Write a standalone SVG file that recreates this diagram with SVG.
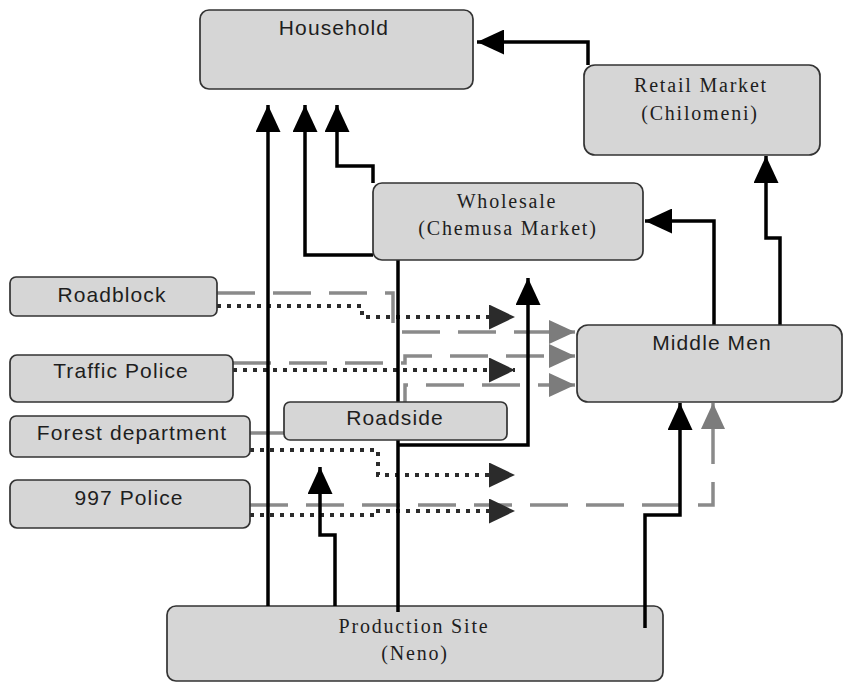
<svg xmlns="http://www.w3.org/2000/svg" width="843" height="683" viewBox="0 0 843 683">
  <style>
    .box { fill: #d6d6d6; stroke: #333; stroke-width: 1.7; }
    .sans { font-family: "Liberation Sans", Arial, sans-serif; font-size: 21px; fill: #1e1e1e; letter-spacing: 1.1px; text-anchor: middle; }
    .serif { font-family: "Liberation Serif", "Times New Roman", serif; font-size: 20px; fill: #1e1e1e; letter-spacing: 1.8px; text-anchor: middle; }
    .flow { fill: none; stroke: #000; stroke-width: 3.5; stroke-linejoin: miter; }
    .dot { fill: none; stroke: #2b2b2b; stroke-width: 4; stroke-dasharray: 4 6; }
    .dash { fill: none; stroke: #8a8a8a; stroke-width: 3.5; stroke-dasharray: 38 18; }
  </style>
  <defs>
    <marker id="arrBlack" markerUnits="userSpaceOnUse" markerWidth="27" markerHeight="25" refX="27" refY="12.5" orient="auto">
      <path d="M0,0 L27,12.5 L0,25 z" fill="#000"/>
    </marker>
    <marker id="arrDot" markerUnits="userSpaceOnUse" markerWidth="26" markerHeight="25" refX="26" refY="12.5" orient="auto">
      <path d="M0,0 L26,12.5 L0,25 z" fill="#2b2b2b"/>
    </marker>
    <marker id="arrGray" markerUnits="userSpaceOnUse" markerWidth="26" markerHeight="24" refX="26" refY="12" orient="auto">
      <path d="M0,0 L26,12 L0,24 z" fill="#7c7c7c"/>
    </marker>
  </defs>

  <rect width="843" height="683" fill="#fff"/>

  <!-- Production site sits under the flows that enter it -->
  <g id="production">
    <rect class="box" x="167" y="606" width="496" height="75" rx="9"/>
    <text class="serif" x="414" y="633">Production Site</text>
    <text class="serif" x="415" y="660">(Neno)</text>
  </g>

  <g id="connectors">
    <!-- checkpoint flows (grey dashed) -->
    <path class="dash" d="M217,293 H393 V332 H575" marker-end="url(#arrGray)"/>
    <path class="dash" d="M233,363 H405 V356 H575" marker-end="url(#arrGray)"/>
    <path class="dash" d="M250,433 H405 V385 H575" marker-end="url(#arrGray)"/>
    <path class="dash" d="M250,505 H713 V403" marker-end="url(#arrGray)"/>
    <!-- checkpoint flows (dotted) -->
    <path class="dot" d="M217,306 H362 V317 H515" marker-end="url(#arrDot)"/>
    <path class="dot" d="M233,370 H515" marker-end="url(#arrDot)"/>
    <path class="dot" d="M250,450 H378 V475 H515" marker-end="url(#arrDot)"/>
    <path class="dot" d="M250,515 H378 V511 H515" marker-end="url(#arrDot)"/>
    <!-- product flows (solid) -->
    <path class="flow" d="M268,606 V105" marker-end="url(#arrBlack)"/>
    <path class="flow" d="M373,255 H305 V105" marker-end="url(#arrBlack)"/>
    <path class="flow" d="M373,183 V166 H337 V105" marker-end="url(#arrBlack)"/>
    <path class="flow" d="M398,612 V260"/>
    <path class="flow" d="M398,445 H528 V278" marker-end="url(#arrBlack)"/>
    <path class="flow" d="M335,606 V535 H320 V467" marker-end="url(#arrBlack)"/>
    <path class="flow" d="M645,628 V515 H680 V403" marker-end="url(#arrBlack)"/>
    <path class="flow" d="M714,325 V221 H645" marker-end="url(#arrBlack)"/>
    <path class="flow" d="M780,325 V238 H766 V156" marker-end="url(#arrBlack)"/>
    <path class="flow" d="M588,65 V42 H477" marker-end="url(#arrBlack)"/>
  </g>

  <g id="household">
    <rect class="box" x="200" y="10" width="273" height="79" rx="9"/>
    <text class="sans" x="334" y="35">Household</text>
  </g>

  <g id="retail">
    <rect class="box" x="584" y="65" width="236" height="90" rx="11"/>
    <text class="serif" x="701" y="92">Retail Market</text>
    <text class="serif" x="700" y="120">(Chilomeni)</text>
  </g>

  <g id="wholesale">
    <rect class="box" x="373" y="183" width="270" height="77" rx="9"/>
    <text class="serif" x="507" y="208">Wholesale</text>
    <text class="serif" x="508" y="235">(Chemusa Market)</text>
  </g>

  <g id="middlemen">
    <rect class="box" x="577" y="325" width="265" height="77" rx="11"/>
    <text class="sans" x="712" y="350">Middle Men</text>
  </g>

  <g id="roadblock">
    <rect class="box" x="10" y="277" width="207" height="39" rx="6"/>
    <text class="sans" x="112" y="302">Roadblock</text>
  </g>

  <g id="traffic-police">
    <rect class="box" x="10" y="355" width="223" height="47" rx="7"/>
    <text class="sans" x="121" y="378">Traffic Police</text>
  </g>

  <g id="forest-department">
    <rect class="box" x="10" y="416" width="240" height="41" rx="6"/>
    <text class="sans" x="132" y="440">Forest department</text>
  </g>

  <g id="police-997">
    <rect class="box" x="10" y="480" width="240" height="48" rx="7"/>
    <text class="sans" x="129" y="505">997 Police</text>
  </g>

  <g id="roadside">
    <rect class="box" x="284" y="402" width="223" height="38" rx="6"/>
    <text class="sans" x="395" y="425">Roadside</text>
  </g>
</svg>
